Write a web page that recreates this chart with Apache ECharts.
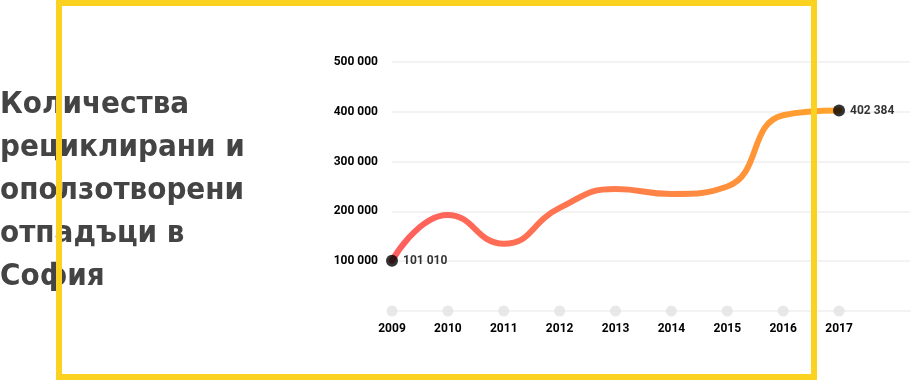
<!DOCTYPE html>
<html><head><meta charset="utf-8">
<script src="https://cdn.jsdelivr.net/npm/echarts@6/dist/echarts.min.js"></script>
<style>html,body{margin:0;padding:0;background:#fff}#c{width:916px;height:380px}</style>
</head><body><div id="c"></div>
<script>
var years = [2009, 2010, 2011, 2012, 2013, 2014, 2015, 2016, 2017];
var values = [101010, 193000, 135000, 207000, 245000, 235000, 250000, 393000, 402384];
var yTicks = [100000, 200000, 300000, 400000, 500000];
var titleText = 'Количества\nрециклирани и\nоползотворени\nотпадъци в\nСофия';

function fmt(v){ return String(v).replace(/\B(?=(\d{3})+(?!\d))/g, ' '); }

var chart = echarts.init(document.getElementById('c'));
var lineData = years.map(function(y,i){ return [y, values[i]]; });
var n = years.length;
var labelFont = {fontFamily:'Roboto', fontWeight:'bold', fontSize:12, color:'#000'};
chart.setOption({
  animation:false,
  title:{
    text:titleText, left:0, top:83, padding:0,
    textStyle:{fontFamily:'DejaVu Sans Condensed', fontWeight:'bold', fontSize:31, lineHeight:43, color:'#444'}
  },
  grid:{left:392, right:6, top:62, bottom:69, containLabel:false},
  xAxis:{
    type:'value', min:years[0], max:2018.27, interval:1,
    axisLine:{show:true, lineStyle:{color:'#f3f3f3', width:2}},
    axisTick:{show:false}, splitLine:{show:false},
    axisLabel:Object.assign({margin:12, formatter:function(v){return v<=years[n-1]? String(v):'';}}, labelFont)
  },
  yAxis:{
    type:'value', min:0, max:500000, interval:100000,
    axisLine:{show:false}, axisTick:{show:false},
    splitLine:{lineStyle:{color:'#f3f3f3', width:2}},
    axisLabel:Object.assign({margin:14, formatter:function(v){return yTicks.indexOf(v)>=0? fmt(v):'';}}, labelFont)
  },
  series:[
    {type:'scatter', data:years.map(function(y){return [y,0];}), symbolSize:11,
      itemStyle:{color:'#e2e2e2'}, silent:true, z:1},
    {type:'line', data:lineData, smooth:0.5, showSymbol:false, symbol:'none',
      lineStyle:{width:6, cap:'round', color:new echarts.graphic.LinearGradient(0,0,1,0,[
        {offset:0,color:'#ff5e5e'},{offset:0.5,color:'#ff7c4c'},{offset:1,color:'#ffa52a'}])}, z:2},
    {type:'scatter', data:[lineData[0], lineData[n-1]], symbolSize:12,
      itemStyle:{color:'#000'}, z:3,
      label:Object.assign({show:true, position:'right', distance:5,
        formatter:function(p){return fmt(p.value[1]);}}, labelFont)}
  ],
  graphic:[{type:'rect', z:100, silent:true,
    shape:{x:59, y:3, width:755, height:374},
    style:{fill:'none', stroke:'#fcd221', lineWidth:6}}]
});
</script></body></html>
